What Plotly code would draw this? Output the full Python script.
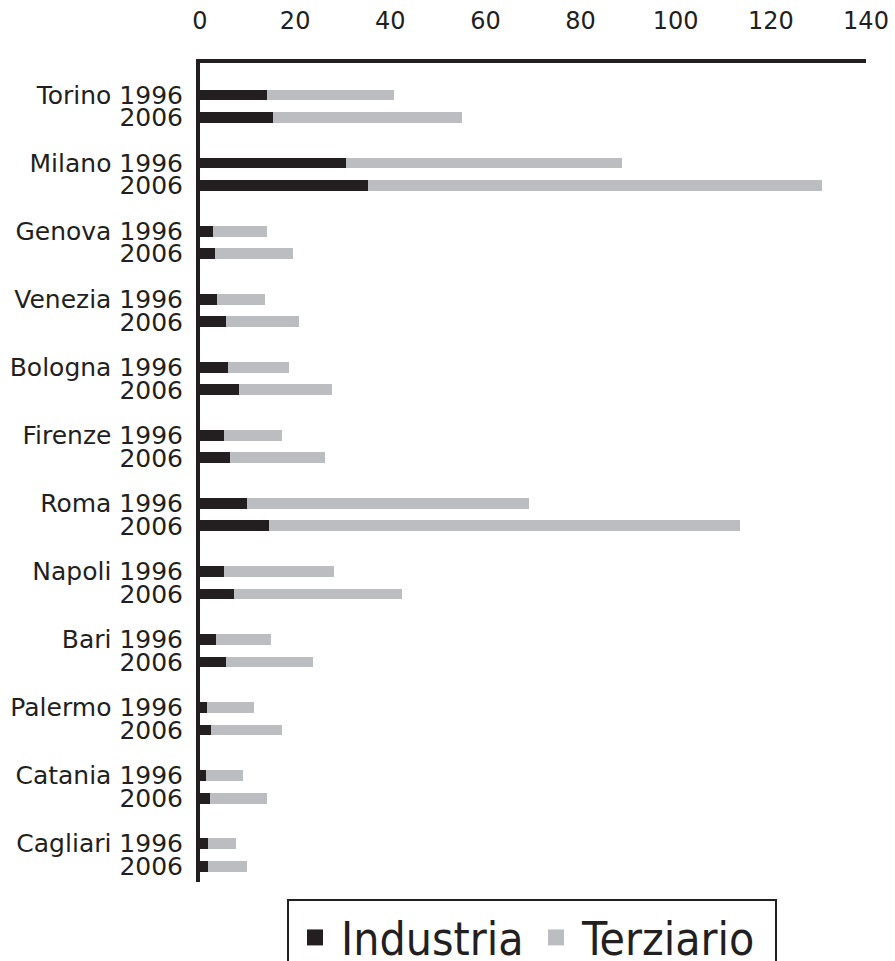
import plotly.graph_objects as go

cities = ["Torino", "Milano", "Genova", "Venezia", "Bologna", "Firenze",
          "Roma", "Napoli", "Bari", "Palermo", "Catania", "Cagliari"]
years = ["1996", "2006"]
industria_1996 = [14.0, 30.6, 2.7, 3.6, 5.9, 5.0, 9.8, 5.0, 3.3, 1.4, 1.2, 1.6]
industria_2006 = [15.3, 35.3, 3.2, 5.5, 8.2, 6.3, 14.4, 7.1, 5.5, 2.3, 2.2, 1.6]
terziario_1996 = [26.7, 58.1, 11.3, 10.1, 12.8, 12.2, 59.4, 23.1, 11.6, 10.0, 7.8, 5.9]
terziario_2006 = [39.7, 95.5, 16.3, 15.3, 19.5, 20.0, 99.1, 35.3, 18.3, 14.9, 11.8, 8.2]
x_ticks = [0, 20, 40, 60, 80, 100, 120, 140]

DARK = "#231f20"
GREY = "#bcbdc0"
FONT = "DejaVu Sans"

ypos, ind, ter, labels = [], [], [], []
for i, c in enumerate(cities):
    for k, yr in enumerate(years):
        ypos.append(i * 3 + k)
        ind.append((industria_1996 if k == 0 else industria_2006)[i])
        ter.append((terziario_1996 if k == 0 else terziario_2006)[i])
        labels.append(f"{c} {yr}" if k == 0 else yr)

fig = go.Figure()
fig.add_trace(go.Bar(y=ypos, x=ind, orientation="h", width=0.48,
                     marker=dict(color=DARK, line=dict(width=0)),
                     name="Industria", showlegend=False))
fig.add_trace(go.Bar(y=ypos, x=ter, orientation="h", width=0.48,
                     marker=dict(color=GREY, line=dict(width=0)),
                     name="Terziario", showlegend=False))
# legend entries with larger square symbols
fig.add_trace(go.Scatter(x=[None], y=[None], mode="markers", name="Industria",
                         legendwidth=184,
                         marker=dict(symbol="square", size=24, color=DARK)))
fig.add_trace(go.Scatter(x=[None], y=[None], mode="markers", name="Terziario",
                         legendwidth=188,
                         marker=dict(symbol="square", size=24, color=GREY)))

fig.update_layout(
    barmode="stack",
    width=895, height=961,
    margin=dict(l=200, r=29, t=63, b=79, pad=0, autoexpand=False),
    paper_bgcolor="white", plot_bgcolor="white",
    font=dict(family=FONT, color=DARK, size=22),
    showlegend=True,
    legend=dict(orientation="h", x=0.1306, y=-0.0208, xanchor="left", yanchor="top",
                bordercolor=DARK, borderwidth=2, traceorder="normal",
                itemwidth=42,
                font=dict(family="DejaVu Sans Condensed, DejaVu Sans", size=46, color=DARK),
                itemsizing="trace", tracegroupgap=0),
    xaxis=dict(side="top", range=[0, 140], tickvals=x_ticks,
               showgrid=False, zeroline=False, showline=True,
               linecolor=DARK, linewidth=4, ticks="",
               ticklabelstandoff=20,
               tickfont=dict(size=24, color=DARK)),
    yaxis=dict(range=[34.7, -1.41], tickvals=ypos, ticktext=labels,
               showgrid=False, zeroline=False, showline=True,
               linecolor=DARK, linewidth=4, ticks="",
               ticklabelstandoff=8,
               tickfont=dict(size=25, color=DARK)),
)

fig.write_html("out.html")
